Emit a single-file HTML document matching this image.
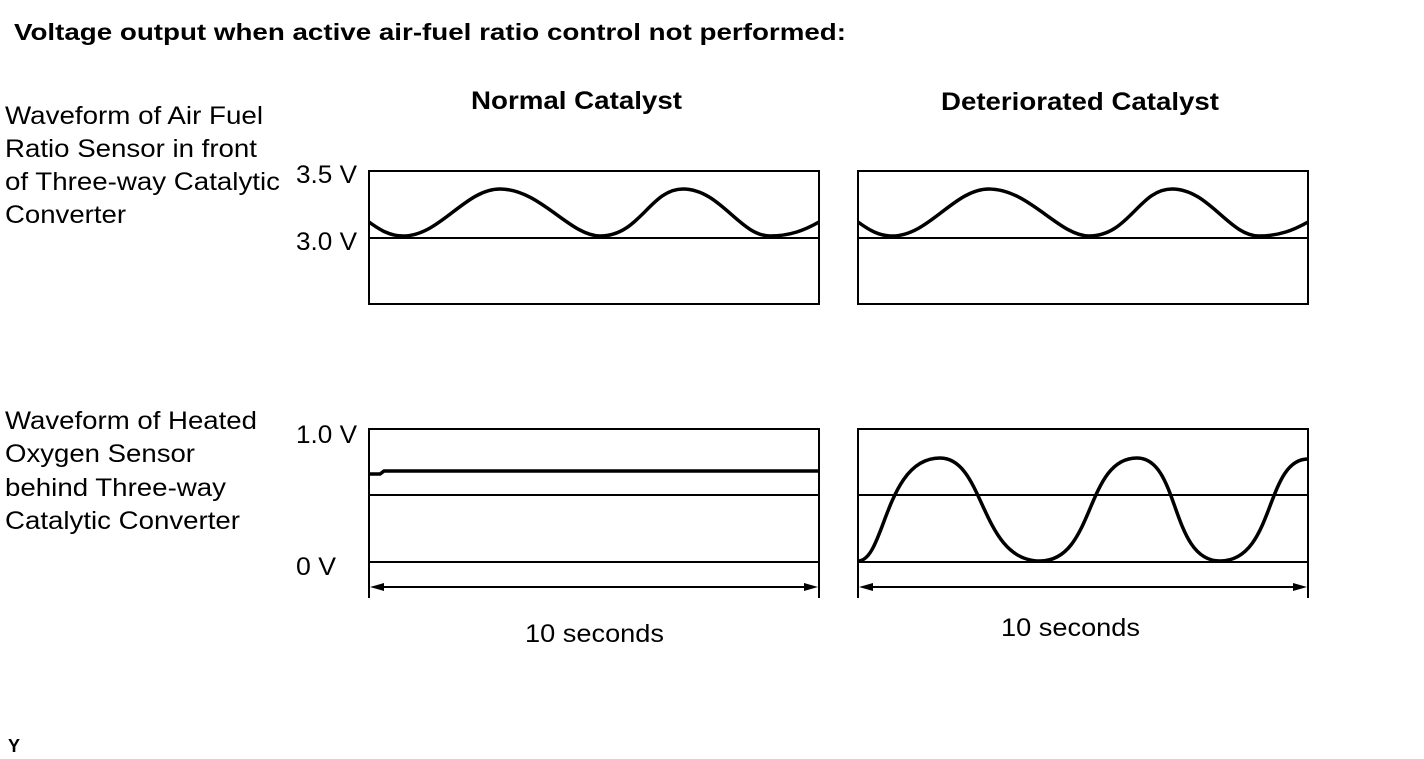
<!DOCTYPE html>
<html><head><style>
body{margin:0;background:#fff;width:1424px;height:759px;overflow:hidden}
svg{display:block}
text{font-family:"Liberation Sans",sans-serif;fill:#000}
</style></head><body>
<svg width="1424" height="759" viewBox="0 0 1424 759">
<text x="14" y="40" font-size="23" font-weight="bold" textLength="832" lengthAdjust="spacingAndGlyphs">Voltage output when active air-fuel ratio control not performed:</text>
<text x="471" y="109" font-size="25" font-weight="bold" textLength="211" lengthAdjust="spacingAndGlyphs">Normal Catalyst</text>
<text x="941" y="110" font-size="25" font-weight="bold" textLength="278" lengthAdjust="spacingAndGlyphs">Deteriorated Catalyst</text>
<g font-size="25">
<text x="5" y="124" textLength="258" lengthAdjust="spacingAndGlyphs">Waveform of Air Fuel</text>
<text x="5" y="157" textLength="252" lengthAdjust="spacingAndGlyphs">Ratio Sensor in front</text>
<text x="5" y="190" textLength="275" lengthAdjust="spacingAndGlyphs">of Three-way Catalytic</text>
<text x="5" y="223" textLength="121" lengthAdjust="spacingAndGlyphs">Converter</text>
<text x="5" y="429" textLength="252" lengthAdjust="spacingAndGlyphs">Waveform of Heated</text>
<text x="5" y="462" textLength="190" lengthAdjust="spacingAndGlyphs">Oxygen Sensor</text>
<text x="5" y="496" textLength="221" lengthAdjust="spacingAndGlyphs">behind Three-way</text>
<text x="5" y="529" textLength="235" lengthAdjust="spacingAndGlyphs">Catalytic Converter</text>
<text x="296" y="183" textLength="61" lengthAdjust="spacingAndGlyphs">3.5 V</text>
<text x="296" y="250" textLength="61" lengthAdjust="spacingAndGlyphs">3.0 V</text>
<text x="296" y="443" textLength="61" lengthAdjust="spacingAndGlyphs">1.0 V</text>
<text x="296" y="575" textLength="40" lengthAdjust="spacingAndGlyphs">0 V</text>
<text x="525" y="642" textLength="139" lengthAdjust="spacingAndGlyphs">10 seconds</text>
<text x="1001" y="636" textLength="139" lengthAdjust="spacingAndGlyphs">10 seconds</text>
</g>
<text x="8" y="752" font-size="18" font-weight="bold">Y</text>
<g fill="none" stroke="#000" stroke-width="2">
<rect x="369" y="171" width="450" height="133"/>
<rect x="858" y="171" width="450" height="133"/>
<line x1="369" y1="238" x2="819" y2="238"/>
<line x1="858" y1="238" x2="1308" y2="238"/>
<polyline points="369,598 369,429 819,429 819,598"/>
<polyline points="858,598 858,429 1308,429 1308,598"/>
<line x1="369" y1="495" x2="819" y2="495"/>
<line x1="369" y1="562" x2="819" y2="562"/>
<line x1="858" y1="495" x2="1308" y2="495"/>
<line x1="858" y1="562" x2="1308" y2="562"/>
<line x1="375" y1="587" x2="813" y2="587"/>
<line x1="864" y1="587" x2="1302" y2="587"/>
</g>
<g fill="#000">
<polygon points="370,587 384,583 384,591"/>
<polygon points="818,587 804,583 804,591"/>
<polygon points="859,587 873,583 873,591"/>
<polygon points="1307,587 1293,583 1293,591"/>
</g>
<g fill="none" stroke="#000" stroke-width="3.5">
<path d="M369,222 C380,230 390,236 403,236 C440,236 465,189 500,189 C540,189 570,236 600,236 C640,236 650,189 683,189 C720,189 740,236 770,236 C790,236 805,230 819,222"/>
<path transform="translate(489,0)" d="M369,222 C380,230 390,236 403,236 C440,236 465,189 500,189 C540,189 570,236 600,236 C640,236 650,189 683,189 C720,189 740,236 770,236 C790,236 805,230 819,222"/>
<path d="M369,474 L380,474 L384,471 L819,471"/>
<path d="M858,561 C885,561 885,458 940,458 C985,458 980,561 1040,561 C1095,561 1085,458 1137,458 C1180,458 1170,561 1220,561 C1275,561 1265,459 1308,459"/>
</g>
</svg>
</body></html>
